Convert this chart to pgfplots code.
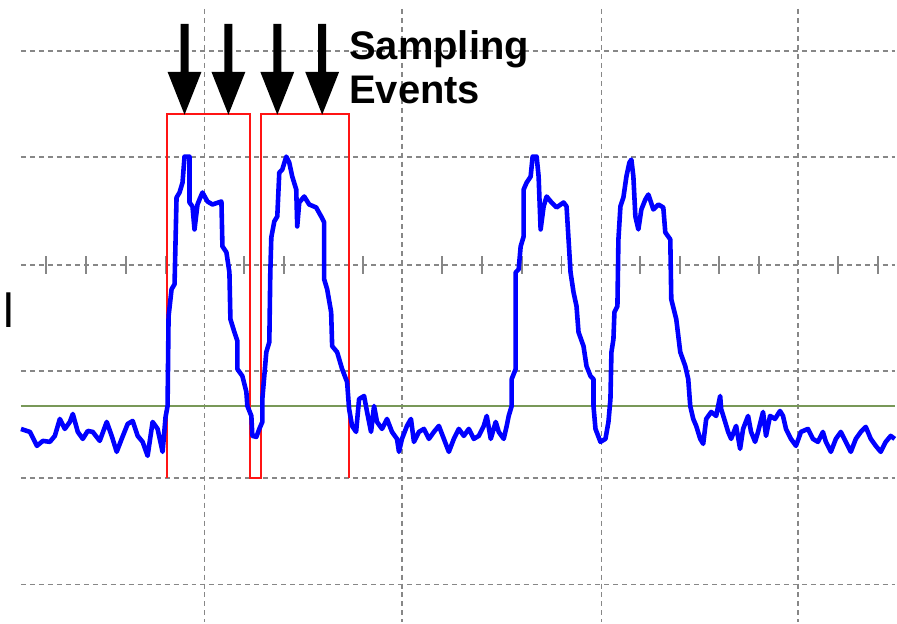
\documentclass[border=0pt]{standalone}
\usepackage{fontspec}
\setmainfont{Liberation Sans}
\usepackage{pgfplots}
\pgfplotsset{compat=1.18}
\definecolor{gridgray}{RGB}{135,135,135}
\definecolor{trig}{RGB}{120,152,88}
\definecolor{trace}{RGB}{0,0,255}
\definecolor{box}{RGB}{255,20,20}
\begin{document}
\begin{tikzpicture}
\begin{axis}[
  width=897pt, height=624pt, scale only axis,
  xmin=0, xmax=897, ymin=0, ymax=624, y dir=reverse,
  axis lines=none, ticks=none,
  axis background/.style={fill=white},
  clip=false,
]
% grid
\foreach \yy in {51,157,266,372,479,586} {
  \edef\tmp{\noexpand\draw[gridgray, line width=1.8pt, dash pattern=on 5pt off 4pt] (axis cs:21,\yy) -- (axis cs:897,\yy);}\tmp
}
\foreach \xx in {205,403,603,800} {
  \edef\tmp{\noexpand\draw[gridgray, line width=1.8pt, dash pattern=on 5pt off 4pt] (axis cs:\xx,9) -- (axis cs:\xx,624);}\tmp
}
\foreach \xx in {46,86,126,166,245,285,324,364,443,483,523,563,642,682,721,761,840,880} {
  \edef\tmp{\noexpand\draw[gridgray, line width=1.8pt] (axis cs:\xx,257) -- (axis cs:\xx,275);}\tmp
}
% trigger level
\addplot[trig, line width=2pt] coordinates {(21,407) (897,407)};
% red boxes
\addplot[box, line width=2pt, sharp plot] coordinates {
(167,479) (167,114) (251,114) (251,479) (262,479) (262,114) (350,114) (350,479)};
% trace
\addplot[trace, line width=4.6pt, line join=round] coordinates {
(21,430) (30,433) (37,447) (43,442) (50,443) (55,437) (60,420) (65,430) (70,423) (73,415)
(78,433) (83,440) (88,432) (93,433) (100,442) (107,423) (112,437) (117,453) (122,440) (128,425)
(133,422) (138,437) (143,443) (148,457) (153,423) (158,430) (163,453) (166,418)
(168,407) (169,317) (172,290) (175,285) (177,198) (180,193) (183,183) (185,157) (190,157)
(190,203) (193,207) (195,230) (198,205) (200,200) (203,193) (208,202) (213,205) (222,202)
(223,247) (227,253) (230,273) (231,320) (235,333) (238,342) (238,370) (243,377) (247,393)
(248,407) (252,417) (253,437) (257,438) (260,430) (263,423) (263,400) (267,353) (270,343)
(271,273) (272,238) (275,222) (278,217) (280,173) (283,170) (287,157) (290,163) (293,177)
(297,190) (298,227) (300,203) (305,197) (310,205) (317,208) (322,217) (325,223) (325,280)
(328,290) (332,313) (333,347) (338,353) (343,370) (348,383) (350,410) (353,427) (357,433)
(360,400) (365,397) (368,413) (372,433) (375,407) (378,423) (383,430) (388,420) (393,433)
(398,440) (400,453) (403,440) (408,427) (412,420) (415,443) (420,433) (425,430) (430,440)
(435,433) (440,427) (445,440) (450,453) (455,440) (460,430) (465,437) (470,430) (475,440)
(480,437) (485,427) (488,417) (492,440) (497,423) (500,433) (505,440) (508,427) (510,417)
(513,407) (513,380) (517,370) (517,273) (520,270) (522,247) (525,237) (525,190) (528,183)
(532,177) (534,157) (538,157) (540,177) (542,230) (545,207) (548,197) (553,203) (558,208)
(565,203) (568,207) (570,240) (572,273) (575,293) (578,307) (580,333) (585,347) (588,367)
(592,377) (595,380) (595,407) (597,430) (602,443) (607,440) (610,423) (612,400) (613,353)
(615,340) (616,313) (619,307) (620,240) (622,207) (625,198) (628,177) (631,163) (633,160)
(635,177) (637,217) (640,230) (643,210) (647,200) (650,195) (655,210) (660,205) (665,208)
(667,233) (672,240) (673,300) (678,320) (682,353) (687,367) (690,380) (692,407) (695,420)
(698,427) (702,440) (705,445) (708,420) (713,413) (718,417) (722,397) (723,410) (727,423)
(730,433) (733,440) (738,427) (742,450) (745,430) (750,417) (753,433) (757,443) (760,433)
(765,413) (768,437) (772,417) (777,420) (782,412) (785,417) (788,430) (793,440) (798,447)
(803,433) (810,430) (815,440) (820,443) (825,433) (828,443) (833,453) (838,440) (843,433)
(848,443) (853,453) (858,440) (863,433) (868,428) (873,440) (878,447) (883,453) (888,443)
(893,437) (897,440)};
% arrows
\foreach \ax in {185,229,278,323} {
  \edef\tmp{\noexpand\fill[black] (axis cs:\ax-4,24) -- (axis cs:\ax+4,24) -- (axis cs:\ax+4,72) -- (axis cs:\ax+17,72) -- (axis cs:\ax,115) -- (axis cs:\ax-17,72) -- (axis cs:\ax-4,72) -- cycle;}\tmp
}
\node[anchor=base west, inner sep=0pt, font=\fontsize{40}{44}\selectfont\bfseries] at (axis cs:350,60) {Sampling};
\node[anchor=base west, inner sep=0pt, font=\fontsize{40}{44}\selectfont\bfseries] at (axis cs:350,104) {Events};
\node[anchor=base west, inner sep=0pt, font=\fontsize{48}{50}\selectfont] at (axis cs:3,328) {l};
\end{axis}
\end{tikzpicture}
\end{document}
